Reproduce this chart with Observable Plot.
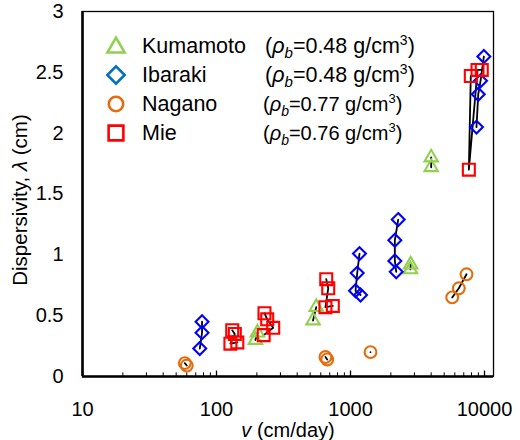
<!DOCTYPE html>
<html><head><meta charset="utf-8">
<script src="https://cdn.jsdelivr.net/npm/d3@7"></script>
<script src="https://cdn.jsdelivr.net/npm/@observablehq/plot@0.6"></script>
<style>
body{margin:0;background:#fff;font-family:"Liberation Sans",Arial,sans-serif;}
#wrap{position:relative;width:520px;height:440px;overflow:hidden;background:#fff;}
#wrap > svg{position:absolute;left:0;top:0;}
.ttl{position:absolute;font-size:20px;line-height:20px;color:#000;white-space:nowrap;text-align:center;}
</style></head><body><div id="wrap"></div>
<script>
// ---- data (v in cm/day, dispersivity lambda in cm); group = measurement cluster ----
const kumamotoV = [195, 202, 525, 555, 2800, 2810, 4000, 4000];
const kumamotoL = [0.30, 0.36, 0.46, 0.57, 0.88, 0.92, 1.72, 1.80];
const kumamotoG = [1, 1, 2, 2, 3, 3, 4, 4];

const ibarakiV = [78, 78, 75, 1167, 1122, 1090, 1188, 2270, 2142, 2142, 2194, 9890, 9340, 8980, 8710];
const ibarakiL = [0.45, 0.36, 0.23, 1.01, 0.85, 0.705, 0.67, 1.29, 1.12, 0.95, 0.86, 2.63, 2.43, 2.32, 2.05];
const ibarakiG = [1, 1, 1, 2, 2, 2, 2, 3, 3, 3, 3, 4, 4, 4, 4];

const naganoV = [58, 60, 650, 670, 1410, 5740, 6430, 7340];
const naganoL = [0.11, 0.09, 0.16, 0.14, 0.20, 0.65, 0.725, 0.84];
const naganoG = [1, 1, 2, 2, 3, 4, 4, 4];

const mieV = [131, 137, 127, 143, 228, 239, 265, 225, 659, 682, 650, 738, 7900, 7640, 8870, 9540];
const mieL = [0.38, 0.35, 0.27, 0.28, 0.52, 0.47, 0.40, 0.34, 0.80, 0.725, 0.57, 0.58, 2.47, 1.70, 2.52, 2.52];
const mieG = [1, 1, 1, 1, 2, 2, 2, 2, 3, 3, 3, 3, 4, 4, 4, 4];

const siteNames = ["Kumamoto", "Ibaraki", "Nagano", "Mie"];
const siteDensity = ["0.48", "0.48", "0.77", "0.76"];

const xTicks = [10, 100, 1000, 10000];
const xMinorTicks = [20,30,40,50,60,70,80,90,200,300,400,500,600,700,800,900,2000,3000,4000,5000,6000,7000,8000,9000];
const yTicks = [0, 0.5, 1, 1.5, 2, 2.5, 3];

// ---- styling ----
const markerColor = {Kumamoto: "#92D050", Ibaraki: "#0000FF", Nagano: "#E46C0A", Mie: "#FF0000"};
const legendColor = {Kumamoto: "#92D050", Ibaraki: "#0070C0", Nagano: "#E46C0A", Mie: "#FF0000"};
const markerSymbol = {Kumamoto: "triangle2", Ibaraki: "diamond2", Nagano: "circle", Mie: "square2"};
const markerR = {Kumamoto: 6.4, Ibaraki: 5.8, Nagano: 5.9, Mie: 7.6};

function rowsOf(site, V, L, G) {
  return V.map((v, i) => ({site, v, lambda: L[i], key: site + G[i]}));
}
const rows = {
  Kumamoto: rowsOf("Kumamoto", kumamotoV, kumamotoL, kumamotoG),
  Ibaraki: rowsOf("Ibaraki", ibarakiV, ibarakiL, ibarakiG),
  Nagano: rowsOf("Nagano", naganoV, naganoL, naganoG),
  Mie: rowsOf("Mie", mieV, mieL, mieG)
};
const allRows = [].concat(rows.Kumamoto, rows.Ibaraki, rows.Nagano, rows.Mie);

const chart = Plot.plot({
  width: 520, height: 440,
  marginLeft: 82, marginRight: 27, marginTop: 11, marginBottom: 64,
  style: {fontFamily: "'Liberation Sans', Arial, sans-serif", fontSize: "20px", color: "#000", background: "transparent", overflow: "visible"},
  x: {type: "log", domain: [10, 11670]},
  y: {domain: [0, 3]},
  marks: [
    Plot.frame({stroke: "#000", strokeWidth: 1.3}),
    Plot.axisX(xTicks, {tickSize: 0, tickPadding: 25, tickFormat: d => String(d), label: null, fontSize: 20}),
    Plot.axisY(yTicks, {tickSize: 0, tickPadding: 19, tickFormat: d => String(d), label: null, fontSize: 20}),
    Plot.ruleX(xMinorTicks, {x: d => d, y1: 0, y2: 0.03, stroke: "#000", strokeWidth: 1}),
    Plot.ruleX(xTicks, {x: d => d, y1: 0, y2: 0.045, stroke: "#000", strokeWidth: 1.3}),
    Plot.ruleY([0], {stroke: "#000", strokeWidth: 2.6}),
    Plot.ruleX([10], {stroke: "#000", strokeWidth: 2.6}),
    Plot.line(allRows, {x: "v", y: "lambda", z: "key", stroke: "#000", strokeWidth: 1.8}),
    ...siteNames.map(s => Plot.dot(rows[s], {
      x: "v", y: "lambda", symbol: markerSymbol[s], r: markerR[s],
      stroke: markerColor[s], strokeWidth: 2.1, fill: "none"
    }))
  ]
});
const wrap = document.getElementById("wrap");
wrap.appendChild(chart);

// ---- legend overlay ----
const leg = d3.select(wrap).append("svg")
  .attr("width", 520).attr("height", 440)
  .style("position", "absolute").style("left", "0px").style("top", "0px")
  .style("font-family", "'Liberation Sans', Arial, sans-serif");
const legSym = {Kumamoto: d3.symbolTriangle2, Ibaraki: d3.symbolDiamond2, Nagano: d3.symbolCircle, Mie: d3.symbolSquare2};
const legSize = {Kumamoto: 8.2, Ibaraki: 7.8, Nagano: 7.2, Mie: 9.4};
siteNames.forEach((s, i) => {
  const cy = 46 + i * 29, base = 53 + i * 29;
  const r = legSize[s];
  leg.append("path")
    .attr("transform", `translate(116,${cy + (s === "Kumamoto" ? 1.5 : 0)})`)
    .attr("d", d3.symbol(legSym[s], r * r * Math.PI)())
    .attr("fill", "none").attr("stroke", legendColor[s]).attr("stroke-width", 2.6);
  leg.append("text").attr("x", 142).attr("y", base).attr("font-size", 21.5).attr("fill", "#000").text(s);
  const fs = i < 2 ? 21.5 : 20;
  const t = leg.append("text").attr("x", i < 2 ? 265 : 263).attr("y", base).attr("font-size", fs).attr("fill", "#000");
  t.append("tspan").text("(");
  t.append("tspan").attr("font-style", "italic").text("ρ");
  t.append("tspan").attr("font-style", "italic").attr("font-size", fs * 0.7).attr("dy", 5).text("b");
  t.append("tspan").attr("dy", -5).text("=" + siteDensity[i] + " g/cm");
  t.append("tspan").attr("font-size", fs * 0.65).attr("dy", -8).text("3");
  t.append("tspan").attr("dy", 8).text(")");
});

// ---- axis titles ----
const yt = document.createElement("div");
yt.className = "ttl";
yt.style.cssText += "left:-130px;top:189px;width:300px;height:22px;font-size:20.5px;line-height:22px;transform:rotate(-90deg);";
yt.innerHTML = "Dispersivity, <i>λ</i> (cm)";
wrap.appendChild(yt);
const xt = document.createElement("div");
xt.className = "ttl";
xt.style.cssText += "left:138px;top:420px;width:300px;height:22px;font-size:20px;line-height:20px;";
xt.innerHTML = "<i>v</i> (cm/day)";
wrap.appendChild(xt);
</script></body></html>
